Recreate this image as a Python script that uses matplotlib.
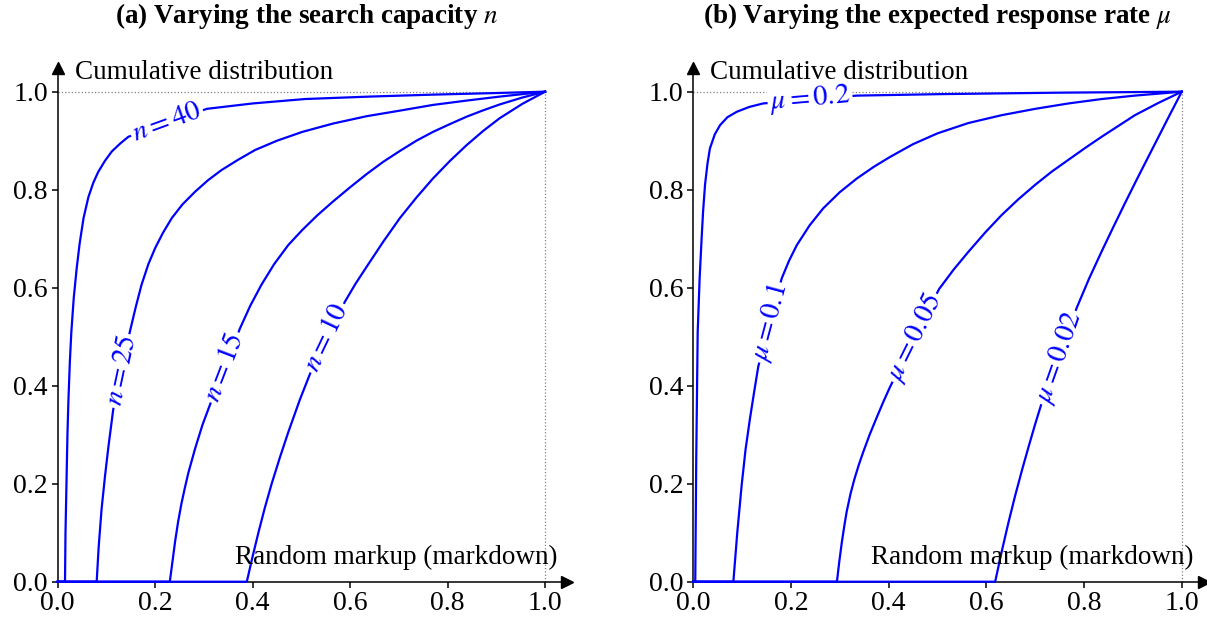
import numpy as np
import matplotlib.pyplot as plt

plt.rcParams['font.family'] = 'serif'
plt.rcParams['font.serif'] = ['Liberation Serif', 'DejaVu Serif']
plt.rcParams['mathtext.fontset'] = 'stix'

# (a) search capacity n : markup x, cumulative distribution y
x40 = [0, 0.015, 0.016, 0.018, 0.020, 0.022, 0.025, 0.028, 0.033, 0.039, 0.045, 0.053, 0.063, 0.073,
       0.083, 0.097, 0.111, 0.128, 0.145, 0.306, 0.40, 0.507, 0.64, 0.77, 0.89, 1.0]
y40 = [0, 0, 0.10, 0.20, 0.30, 0.37, 0.45, 0.51, 0.58, 0.64, 0.69, 0.742, 0.785, 0.814,
       0.836, 0.859, 0.878, 0.894, 0.908, 0.965, 0.976, 0.985, 0.990, 0.994, 0.997, 1.0]
x25 = [0, 0.080, 0.084, 0.090, 0.097, 0.104, 0.114, 0.148, 0.160, 0.172, 0.186, 0.200, 0.216, 0.234,
       0.256, 0.282, 0.308, 0.336, 0.370, 0.405, 0.45, 0.502, 0.565, 0.634, 0.70, 0.770, 0.84, 0.907, 1.0]
y25 = [0, 0, 0.07, 0.148, 0.215, 0.275, 0.352, 0.510, 0.56, 0.606, 0.648, 0.681, 0.712, 0.742,
       0.770, 0.796, 0.819, 0.840, 0.861, 0.881, 0.900, 0.918, 0.935, 0.950, 0.961, 0.973, 0.982, 0.990, 1.0]
x15 = [0, 0.230, 0.236, 0.241, 0.247, 0.254, 0.261, 0.268, 0.282, 0.297, 0.312, 0.374, 0.395, 0.418,
       0.444, 0.473, 0.502, 0.533, 0.565, 0.600, 0.634, 0.668, 0.702, 0.736, 0.770, 0.805, 0.839, 0.873,
       0.907, 0.953, 1.0]
y15 = [0, 0, 0.045, 0.083, 0.122, 0.160, 0.192, 0.222, 0.272, 0.320, 0.360, 0.517, 0.563, 0.606,
       0.648, 0.687, 0.718, 0.748, 0.776, 0.805, 0.832, 0.857, 0.879, 0.900, 0.918, 0.934, 0.949, 0.962,
       0.974, 0.988, 1.0]
x10 = [0, 0.388, 0.400, 0.412, 0.425, 0.439, 0.456, 0.473, 0.497, 0.518, 0.589, 0.611, 0.634, 0.668,
       0.702, 0.736, 0.770, 0.805, 0.839, 0.873, 0.907, 0.953, 1.0]
y10 = [0, 0, 0.052, 0.101, 0.151, 0.200, 0.254, 0.305, 0.372, 0.425, 0.571, 0.608, 0.643, 0.694,
       0.742, 0.784, 0.823, 0.859, 0.891, 0.920, 0.946, 0.975, 1.0]

# (b) expected response rate mu
x02 = [0, 0.004, 0.006, 0.009, 0.013, 0.017, 0.020, 0.024, 0.029, 0.034, 0.044, 0.055, 0.070, 0.089,
       0.115, 0.143, 0.335, 0.505, 0.75, 1.0]
y02 = [0, 0, 0.25, 0.51, 0.62, 0.70, 0.755, 0.810, 0.853, 0.884, 0.913, 0.932, 0.948, 0.959,
       0.969, 0.976, 0.992, 0.995, 0.998, 1.0]
x01 = [0, 0.082, 0.090, 0.099, 0.107, 0.116, 0.125, 0.133, 0.181, 0.196, 0.212, 0.238, 0.266, 0.300,
       0.335, 0.370, 0.403, 0.450, 0.500, 0.563, 0.631, 0.70, 0.768, 0.836, 0.904, 1.0]
y01 = [0, 0, 0.10, 0.197, 0.27, 0.333, 0.39, 0.439, 0.619, 0.655, 0.687, 0.727, 0.762, 0.795,
       0.823, 0.847, 0.867, 0.893, 0.915, 0.936, 0.952, 0.965, 0.976, 0.985, 0.992, 1.0]
x005 = [0, 0.294, 0.299, 0.304, 0.309, 0.314, 0.322, 0.330, 0.339, 0.348, 0.361, 0.375, 0.389, 0.403,
        0.503, 0.533, 0.563, 0.597, 0.631, 0.665, 0.700, 0.734, 0.768, 0.802, 0.836, 0.870, 0.904, 0.952, 1.0]
y005 = [0, 0, 0.042, 0.080, 0.113, 0.143, 0.180, 0.210, 0.239, 0.265, 0.300, 0.334, 0.367, 0.398,
        0.597, 0.637, 0.673, 0.712, 0.748, 0.780, 0.810, 0.837, 0.861, 0.885, 0.908, 0.930, 0.952, 0.977, 1.0]
x002 = [0, 0.618, 0.631, 0.645, 0.659, 0.673, 0.686, 0.700, 0.713, 0.785, 0.810, 0.836, 0.860, 0.884,
        0.908, 0.932, 0.952, 0.973, 1.0]
y002 = [0, 0, 0.060, 0.120, 0.176, 0.228, 0.274, 0.322, 0.364, 0.559, 0.618, 0.674, 0.724, 0.773,
        0.821, 0.868, 0.907, 0.948, 1.0]

courbes_a = [(x40, y40, r'$n = 40$', 0.224, 0.937, 20),
             (x25, y25, r'$n = 25$', 0.131, 0.430, 78),
             (x15, y15, r'$n = 15$', 0.343, 0.437, 69),
             (x10, y10, r'$n = 10$', 0.553, 0.497, 64.5)]
courbes_b = [(x02, y02, r'$\mu = 0.2$', 0.239, 0.984, 5),
             (x01, y01, r'$\mu = 0.1$', 0.157, 0.529, 75),
             (x005, y005, r'$\mu = 0.05$', 0.453, 0.498, 63.5),
             (x002, y002, r'$\mu = 0.02$', 0.749, 0.457, 70.5)]

ticks = [0.0, 0.2, 0.4, 0.6, 0.8, 1.0]
fs = 19.5

fig = plt.figure(figsize=(12.07, 6.18), dpi=100)
ax1 = fig.add_axes([0.0478, 0.0587, 0.422, 0.831])
ax2 = fig.add_axes([0.5744, 0.0587, 0.4229, 0.831])

for ax, courbes in [(ax1, courbes_a), (ax2, courbes_b)]:
    # guides pointilles en y=1 et x=1
    ax.plot([0, 1], [1, 1], ':', color='gray', lw=0.9, zorder=1)
    ax.plot([1, 1], [0, 1], ':', color='gray', lw=0.9, zorder=1)
    for xs, ys, lab, lx, ly, rot in courbes:
        ax.plot(xs, ys, color='#0000ff', lw=1.6, clip_on=False, zorder=3)
        ax.text(lx, ly, lab, color='#0000ff', fontsize=fs + 1, rotation=rot,
                rotation_mode='anchor', ha='center', va='center', zorder=4,
                bbox=dict(boxstyle='square,pad=0.08', fc='white', ec='none'))
    ax.set_xlim(0, 1.045)
    ax.set_ylim(0, 1.048)
    ax.set_xticks(ticks)
    ax.set_yticks(ticks)
    ax.set_xticklabels([f'{t:.1f}' for t in ticks])
    ax.set_yticklabels([f'{t:.1f}' for t in ticks])
    ax.tick_params(direction='out', length=4, width=1.1, labelsize=fs + 0.5, pad=3)
    ax.spines['top'].set_visible(False)
    ax.spines['right'].set_visible(False)
    ax.spines['left'].set_linewidth(1.1)
    ax.spines['bottom'].set_linewidth(1.1)
    # fleches au bout des axes
    ax.plot(1, 0, '>k', ms=9, transform=ax.get_yaxis_transform(), clip_on=False)
    ax.plot(0, 1, '^k', ms=9, transform=ax.get_xaxis_transform(), clip_on=False)
    ax.text(0.035, 1.025, 'Cumulative distribution', fontsize=fs, ha='left', va='baseline')
    ax.text(1.025, 0.036, 'Random markup (markdown)', fontsize=fs, ha='right', va='baseline')

fig.text(307 / 1207, 1 - 16 / 618, r'(a) Varying the search capacity $n$',
         fontsize=fs, fontweight='bold', ha='center', va='center')
fig.text(937 / 1207, 1 - 16 / 618, r'(b) Varying the expected response rate $\mu$',
         fontsize=fs, fontweight='bold', ha='center', va='center')

plt.savefig('out.png', dpi=100)
